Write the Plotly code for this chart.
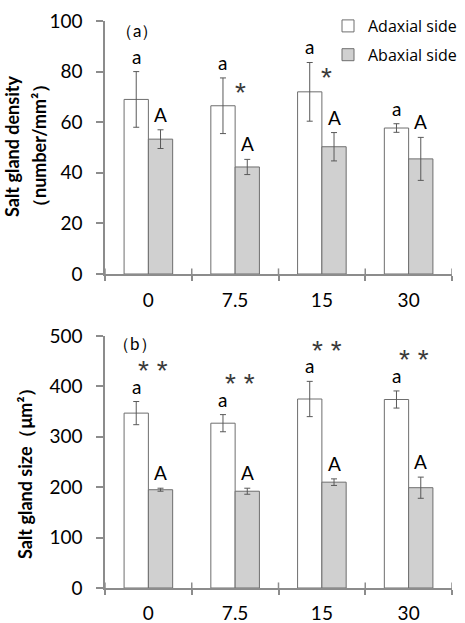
import plotly.graph_objects as go

categories = ["0", "7.5", "15", "30"]

density_adaxial = [69.0, 66.5, 72.0, 57.7]
density_adaxial_err = [11.0, 11.0, 11.6, 1.7]
density_abaxial = [53.3, 42.3, 50.3, 45.5]
density_abaxial_err = [3.7, 3.0, 5.6, 8.5]

size_adaxial = [347, 327, 375, 374]
size_adaxial_err = [23, 17, 35, 17]
size_abaxial = [195, 192, 210, 199]
size_abaxial_err = [3, 6, 6.5, 21]

density_letters_ad = ["a", "a", "a", "a"]
density_letters_ab = ["A", "A", "A", "A"]
density_stars = ["", "*", "*", ""]
size_letters_ad = ["a", "a", "a", "a"]
size_letters_ab = ["A", "A", "A", "A"]
size_stars = ["* *", "* *", "* *", "* *"]

W, H = 465, 623
FONT = "Lato"
AXIS_COLOR = "#8c8c8c"
BAR_LINE = "#6e6e6e"
GRAY_FILL = "#d0d0d0"
ERR_COLOR = "#595959"

xdom = [105 / W, 452 / W]
ydom_top = [1 - 274 / H, 1 - 21 / H]
ydom_bot = [1 - 588 / H, 1 - 336 / H]

fig = go.Figure()

def add_bars(vals, errs, name, fill, xa, ya, show):
    fig.add_trace(go.Bar(
        x=categories, y=vals, name=name, xaxis=xa, yaxis=ya,
        marker=dict(color=fill, line=dict(color=BAR_LINE, width=1)),
        error_y=dict(type="data", array=errs, visible=True, color=ERR_COLOR,
                     thickness=1, width=3),
        showlegend=show, legendgroup=name,
    ))

add_bars(density_adaxial, density_adaxial_err, "Adaxial side", "white", "x", "y", True)
add_bars(density_abaxial, density_abaxial_err, "Abaxial side", GRAY_FILL, "x", "y", True)
add_bars(size_adaxial, size_adaxial_err, "Adaxial side", "white", "x2", "y2", False)
add_bars(size_abaxial, size_abaxial_err, "Abaxial side", GRAY_FILL, "x2", "y2", False)

cat_px = (452 - 105) / 4
bargap = 0.44
half = cat_px * (1 - bargap) / 4

tick_font = dict(family=FONT, size=19, color="black")
axis_common = dict(showline=True, linecolor=AXIS_COLOR, linewidth=1.5,
                   showgrid=False, zeroline=False, ticks="outside",
                   tickcolor=AXIS_COLOR, tickwidth=1.5, tickfont=tick_font,
                   automargin=False)

fig.update_layout(
    width=W, height=623,
    margin=dict(l=0, r=0, t=0, b=0, autoexpand=False),
    paper_bgcolor="white", plot_bgcolor="white",
    barmode="group", bargap=bargap, bargroupgap=0,
    font=dict(family=FONT, color="black"),
    xaxis=dict(domain=xdom, anchor="y", type="category", range=[-0.5, 3.5],
               tickson="boundaries", ticklen=5, ticklabelstandoff=8, **axis_common),
    yaxis=dict(domain=ydom_top, anchor="x", range=[0, 100], dtick=20,
               ticklen=7, ticklabelstandoff=10, **axis_common),
    xaxis2=dict(domain=xdom, anchor="y2", type="category", range=[-0.5, 3.5],
                tickson="boundaries", ticklen=5, ticklabelstandoff=7, **axis_common),
    yaxis2=dict(domain=ydom_bot, anchor="x2", range=[0, 500], dtick=100,
                ticklen=7, ticklabelstandoff=10, **axis_common),
    legend=dict(x=328 / W, y=1 - 9 / H, xanchor="left", yanchor="top",
                font=dict(family="Open Sans", size=16, color="black"),
                traceorder="grouped", tracegroupgap=5,
                bgcolor="rgba(0,0,0,0)", itemwidth=30),
)

ann = []
shapes = []
letter_font = dict(family=FONT, size=19, color="black")
star_font = dict(family="Liberation Sans", size=28, color="#3a3a3a")

def panel_annotations(xr, yr, ad, ad_err, ab, ab_err, la, lb, stars, star_mode):
    for i in range(len(categories)):
        ann.append(dict(x=i, y=ad[i] + ad_err[i], xref=xr, yref=yr, text=la[i],
                        showarrow=False, yanchor="bottom", yshift=2,
                        xshift=-half, font=letter_font))
        ann.append(dict(x=i, y=ab[i] + ab_err[i], xref=xr, yref=yr, text=lb[i],
                        showarrow=False, yanchor="bottom", yshift=2,
                        xshift=half, font=letter_font))
        if stars[i]:
            if star_mode == "side":
                ann.append(dict(x=i, y=ad[i] + ad_err[i], xref=xr, yref=yr,
                                text=stars[i], showarrow=False, yanchor="middle",
                                yshift=-15, xshift=5, font=star_font))
            else:
                ann.append(dict(x=i, y=ad[i] + ad_err[i], xref=xr, yref=yr,
                                text=stars[i], showarrow=False, yanchor="middle",
                                yshift=31, xshift=5, font=star_font))
    for k in range(5):
        shapes.append(dict(type="line", xref=xr, yref=yr + " domain",
                           x0=k - 0.5, x1=k - 0.5, y0=0, y1=0.022,
                           line=dict(color=AXIS_COLOR, width=1.5)))

panel_annotations("x", "y", density_adaxial, density_adaxial_err, density_abaxial,
                  density_abaxial_err, density_letters_ad, density_letters_ab,
                  density_stars, "side")
panel_annotations("x2", "y2", size_adaxial, size_adaxial_err, size_abaxial,
                  size_abaxial_err, size_letters_ad, size_letters_ab,
                  size_stars, "above")

title_font = dict(family=FONT, size=18, color="black")
ann.append(dict(x=12 / W, y=1 - 147 / H, xref="paper", yref="paper",
                text="<b>Salt gland density</b>", textangle=-90, showarrow=False,
                xanchor="center", yanchor="middle", font=title_font))
ann.append(dict(x=39 / W, y=1 - 146 / H, xref="paper", yref="paper",
                text="<b>（number/mm²）</b>", textangle=-90, showarrow=False,
                xanchor="center", yanchor="middle", font=title_font))
ann.append(dict(x=25 / W, y=1 - 469 / H, xref="paper", yref="paper",
                text="<b>Salt gland size（μm²）</b>", textangle=-90, showarrow=False,
                xanchor="center", yanchor="middle", font=title_font))
ann.append(dict(x=137 / W, y=1 - 31 / H, xref="paper", yref="paper",
                text="（a）", showarrow=False, xanchor="center", yanchor="middle",
                font=dict(family=FONT, size=17, color="black")))
ann.append(dict(x=135 / W, y=1 - 343 / H, xref="paper", yref="paper",
                text="（b）", showarrow=False, xanchor="center", yanchor="middle",
                font=dict(family=FONT, size=17, color="black")))

fig.update_layout(annotations=ann, shapes=shapes)
fig.write_html("out.html")
